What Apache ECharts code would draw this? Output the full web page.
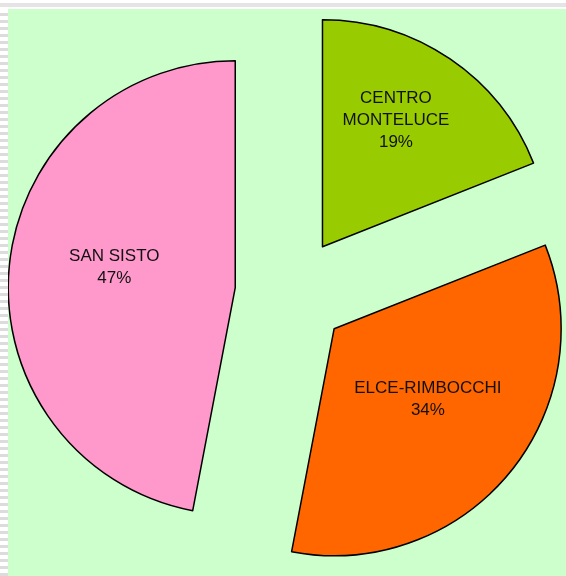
<!DOCTYPE html>
<html>
<head>
<meta charset="utf-8">
<script src="https://cdn.jsdelivr.net/npm/echarts@6/dist/echarts.min.js"></script>
<style>
  html, body { margin: 0; padding: 0; background: #fff; }
  body { width: 566px; height: 576px; position: relative; overflow: hidden; }
  /* striscia grigia in alto e bordo rigato a sinistra */
  .top-strip { position: absolute; left: 0; top: 3px; width: 566px; height: 4px; background: #e4e4e4; }
  .left-strip {
    position: absolute; left: 0; top: 9px; width: 8px; height: 567px;
    background: repeating-linear-gradient(to bottom, #fff 0px, #fff 4px, #dcdcdc 4px, #dcdcdc 7px);
  }
  #chart { position: absolute; left: 8px; top: 9px; width: 558px; height: 567px; }
</style>
</head>
<body>
<div class="top-strip"></div>
<div class="left-strip"></div>
<div id="chart"></div>
<script>
// dati del grafico
const categories = ['CENTRO\nMONTELUCE', 'ELCE-RIMBOCCHI', 'SAN SISTO'];
const values = [19, 34, 47];
const colors = ['#99CC00', '#FF6600', '#FF99CC'];

const chart = echarts.init(document.getElementById('chart'));

// spostamento delle etichette come nell'originale
const labelShift = [[8, -30], [4, -4], [-5, -9]];

const option = {
  backgroundColor: '#CCFFCC',
  animation: false,
  series: [
    {
      type: 'pie',
      center: [283, 284],
      radius: 227,
      startAngle: 90,
      clockwise: true,
      selectedMode: 'multiple',
      selectedOffset: 56,
      silent: true,
      itemStyle: {
        borderColor: '#000',
        borderWidth: 1.5,
      },
      label: {
        show: true,
        position: 'inside',
        formatter: '{b}\n{d}%',
        color: '#111',
        fontFamily: 'Liberation Sans, Arial, sans-serif',
        fontSize: 17,
        lineHeight: 22,
        align: 'center',
      },
      labelLine: { show: false },
      labelLayout: params => ({
        dx: labelShift[params.dataIndex][0],
        dy: labelShift[params.dataIndex][1],
      }),
      data: categories.map((name, i) => ({
        name,
        value: values[i],
        selected: true,
        itemStyle: { color: colors[i] },
      })),
    },
  ],
};

chart.setOption(option);
</script>
</body>
</html>
